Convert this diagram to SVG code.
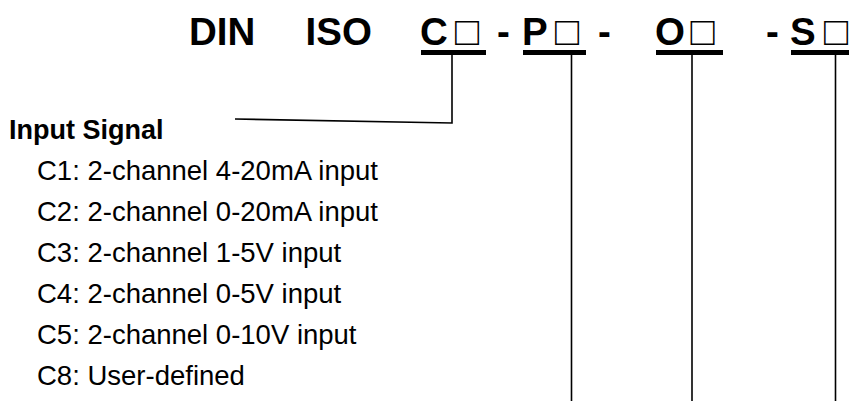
<svg xmlns="http://www.w3.org/2000/svg" width="849" height="401" viewBox="0 0 849 401">
<style>
.t{font-family:"Liberation Sans",Arial,sans-serif;font-weight:bold;font-size:38.5px;fill:#000}
.sq{font-family:"Liberation Sans","DejaVu Sans",sans-serif;font-weight:normal;font-size:40px;fill:#000}
.h{font-family:"Liberation Sans",Arial,sans-serif;font-weight:bold;font-size:27px;fill:#000}
.i{font-family:"Liberation Sans",Arial,sans-serif;font-size:27.5px;fill:#000}
.ul{fill:#000}
.ln{fill:none;stroke:#000;stroke-width:1.6}
</style>
<g id="title">
<text class="t" x="189" y="44.5">DIN</text>
<text class="t" x="305.5" y="44.5">ISO</text>
<text class="t" x="420" y="44.5">C</text>
<text class="sq" x="455" y="44.5">□</text>
<text class="t" x="497" y="44.5">-</text>
<text class="t" x="522" y="44.5">P</text>
<text class="sq" x="555" y="44.5">□</text>
<text class="t" x="598" y="44.5">-</text>
<text class="t" x="655" y="44.5">O</text>
<text class="sq" x="690.5" y="44.5">□</text>
<text class="t" x="766" y="44.5">-</text>
<text class="t" x="790" y="44.5">S</text>
<text class="sq" x="824" y="44.5">□</text>
<rect class="ul" x="421" y="50" width="65" height="5"/>
<rect class="ul" x="523" y="50" width="63" height="5"/>
<rect class="ul" x="656" y="50" width="67" height="5"/>
<rect class="ul" x="791" y="50" width="58" height="5"/>
</g>
<g id="connectors">
<polyline class="ln" points="235,119 452,123 452,55"/>
<line class="ln" x1="571.5" y1="55" x2="571.5" y2="401"/>
<line class="ln" x1="692" y1="55" x2="692" y2="401"/>
<line class="ln" x1="835.5" y1="55" x2="835.5" y2="401"/>
</g>
<g id="input-signal">
<text class="h" x="9" y="139">Input Signal</text>
<text class="i" x="37" y="180">C1: 2-channel 4-20mA input</text>
<text class="i" x="37" y="221">C2: 2-channel 0-20mA input</text>
<text class="i" x="37" y="262">C3: 2-channel 1-5V input</text>
<text class="i" x="37" y="303">C4: 2-channel 0-5V input</text>
<text class="i" x="37" y="344">C5: 2-channel 0-10V input</text>
<text class="i" x="37" y="385">C8: User-defined</text>
</g>
</svg>
